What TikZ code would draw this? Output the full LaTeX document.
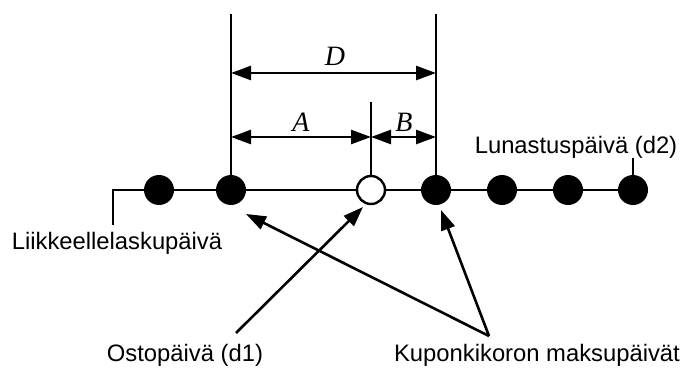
\documentclass[tikz,border=0pt]{standalone}
\usepackage{fontspec}
\setmainfont{Liberation Sans}
\newfontfamily\serifit{Liberation Serif}
\usetikzlibrary{arrows.meta}
\begin{document}
\begin{tikzpicture}[x=1pt,y=-1pt,
  ln/.style={line width=2.6pt},
  dot/.style={circle,fill=black,minimum size=30pt,inner sep=0pt},
  odot/.style={circle,draw=black,fill=white,line width=2.4pt,minimum size=28pt,inner sep=0pt},
  lbl/.style={font=\fontsize{23.8}{27}\selectfont,inner sep=0pt},
  dim/.style={font=\serifit\itshape\fontsize{28}{30}\selectfont,inner sep=0pt},
  tip/.style={-{Triangle[length=20pt,width=14pt]}},
  tips/.style={{Triangle[length=20pt,width=14pt]}-{Triangle[length=20pt,width=14pt]}}]
\useasboundingbox (0,0) rectangle (680,369);
% main line
\coordinate (ls) at (113,225);
\coordinate (lc) at (113,190);
\coordinate (re) at (633,190);
\draw[ln] (ls) -- (lc) -- (re);
% dots
\node[dot] (p1) at (159,190) {};
\node[dot] (p2) at (231,190) {};
\node[odot] (p3) at (371,190) {};
\node[dot] (p4) at (436,190) {};
\node[dot] (p5) at (502,190) {};
\node[dot] (p6) at (568,190) {};
\node[dot] (p7) at (633,190) {};
% vertical extension lines
\coordinate (v1) at (231,14);
\coordinate (v2) at (436,14);
\coordinate (v3) at (371,102);
\coordinate (v4) at (633,158);
\draw[ln] (v1) -- (p2.center);
\draw[ln] (v2) -- (p4.center);
\draw[ln] (v3) -- (p3.north);
\draw[ln] (v4) -- (p7.center);
% dimension arrows
\coordinate (d1) at (231,73);
\coordinate (d2) at (436,73);
\coordinate (a1) at (231,137);
\coordinate (a2) at (371,137);
\coordinate (b2) at (436,137);
\draw[ln,tips] (d1) -- (d2);
\draw[ln,tips] (a1) -- (a2);
\draw[ln,tips] (a2) -- (b2);
\node[dim] (D) at (335,56) {D};
\node[dim] (A) at (301,122) {A};
\node[dim] (B) at (404,122) {B};
% labels
\node[lbl] (lun) at (576,147) {Lunastuspäivä (d2)};
\node[lbl] (lii) at (117,243) {Liikkeellelaskupäivä};
\node[lbl] (ost) at (185,355) {Ostopäivä (d1)};
\node[lbl] (kup) at (537,355) {Kuponkikoron maksupäivät};
% pointer arrows
\coordinate (oe) at (236,333);
\coordinate (ke) at (489,336);
\coordinate (t3) at (363,207);
\coordinate (t2) at (246,214);
\coordinate (t4) at (441,210);
\draw[ln,tip] (oe) -- (t3);
\draw[ln,tip] (ke) -- (t2);
\draw[ln,tip] (ke) -- (t4);
\end{tikzpicture}
\end{document}
